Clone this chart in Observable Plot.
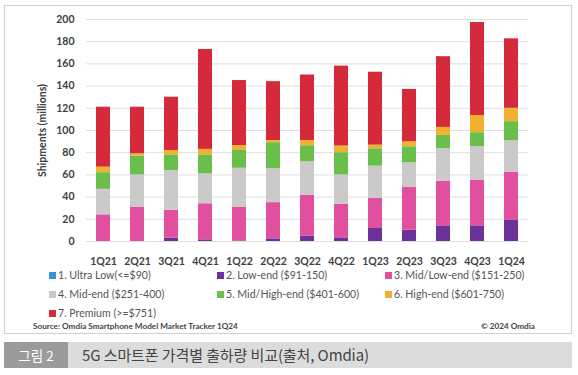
<!DOCTYPE html>
<html>
<head>
<meta charset="utf-8">
<script src="https://cdn.jsdelivr.net/npm/d3@7"></script>
<script src="https://cdn.jsdelivr.net/npm/@observablehq/plot@0.6"></script>
<style>
  html, body { margin: 0; padding: 0; background: #fff; }
  #page { position: relative; width: 578px; height: 375px; overflow: hidden; background: #fff; font-family: Lato, "Open Sans", sans-serif; }
  #frame { position: absolute; left: 4px; top: 5px; width: 566px; height: 327px; border: 1px solid #cfcfcf; box-sizing: content-box; }
  #chart { position: absolute; left: 0; top: 0; }
  .leg { position: absolute; font-size: 10.6px; color: #555; white-space: nowrap; line-height: 12px; }
  .sw { display: inline-block; width: 7px; height: 7px; margin-right: 2px; }
  #source { position: absolute; left: 33px; top: 321px; font-size: 8.2px; font-weight: 700; color: #444; }
  #copy { position: absolute; right: 43px; top: 321px; font-size: 8.2px; font-weight: 700; color: #444; }
  #capbar { position: absolute; left: 4px; top: 342px; width: 568px; height: 26px; background: #dcdcdc; }
  #capnum { position: absolute; left: 0; top: 0; width: 64px; height: 26px; background: #9b9b9b; color: #fff; font-family: "Noto Sans CJK KR", sans-serif; font-size: 13.5px; line-height: 26px; text-align: center; }
  #captext { position: absolute; left: 78px; top: 0; height: 26px; line-height: 26px; color: #444; font-family: "Noto Sans CJK KR", sans-serif; font-size: 15px; letter-spacing: -0.1px; }
</style>
</head>
<body>
<div id="page">
  <div id="frame"></div>
  <div id="chart"></div>
  <div id="legend"></div>
  <div id="source">Source: Omdia Smartphone Model Market Tracker 1Q24</div>
  <div id="copy">© 2024 Omdia</div>
  <div id="capbar"><div id="capnum">그림 2</div><div id="captext">5G 스마트폰 가격별 출하량 비교(출처, Omdia)</div></div>
</div>
<script>
const quarters = ["1Q21","2Q21","3Q21","4Q21","1Q22","2Q22","3Q22","4Q22","1Q23","2Q23","3Q23","4Q23","1Q24"];
const tiers = ["1. Ultra Low(<=$90)","2. Low-end ($91-150)","3. Mid/Low-end ($151-250)","4. Mid-end ($251-400)","5. Mid/High-end ($401-600)","6. High-end ($601-750)","7. Premium (>=$751)"];
const tierColors = ["#3a8fd6","#6b3399","#e0509f","#cbc9c9","#6abf4b","#f0b030","#d42a3c"];
const ultraLow = [0,0,0,0,0,0,0,0,0,0,0,0,0];
const lowEnd   = [0,0,3,1.5,0.5,2.4,4.8,3.3,11.7,10.2,14.1,14.1,19];
const midLow   = [24,31,25,32.5,30.5,32.6,37,30.3,27,38.4,40,41.2,43.5];
const midEnd   = [23,29,36,27,35,30.5,30,26.4,29.2,22.3,29.5,30.3,28.2];
const midHigh  = [15,17,14,17,16,23.5,14.5,20,15.6,14.4,12,12.4,17.3];
const highEnd  = [5,2,4,5,4.5,2,4.7,6,3.3,4.5,7.2,15.5,12];
const premium  = [54,42,48,90,58.5,53,59,72,65.7,47.2,63.7,83.8,62.6];
const yTicks = [0,20,40,60,80,100,120,140,160,180,200];

const series = [ultraLow, lowEnd, midLow, midEnd, midHigh, highEnd, premium];
const rows = [];
series.forEach((vals, i) => vals.forEach((v, j) => rows.push({quarter: quarters[j], tier: tiers[i], value: v})));

const chart = Plot.plot({
  width: 578,
  height: 271,
  marginLeft: 86,
  marginRight: 50,
  marginTop: 19,
  marginBottom: 30,
  style: {fontFamily: "Lato, 'Open Sans', sans-serif", fontSize: "10.5px", fontWeight: 700, color: "#404040", background: "transparent"},
  x: {type: "band", domain: quarters, paddingInner: 0.59, paddingOuter: 0.26, axis: "bottom", tickSize: 0, tickPadding: 16, label: null},
  y: {domain: [0, 200]},
  color: {domain: tiers, range: tierColors},
  marks: [
    Plot.gridY(yTicks, {stroke: "#dedede", strokeOpacity: 1}),
    Plot.barY(rows, Plot.stackY({order: tiers}, {x: "quarter", y: "value", fill: "tier"})),
    Plot.axisY(yTicks, {tickSize: 0, tickPadding: 12, label: "Shipments (millions)", labelAnchor: "center", labelArrow: "none", labelOffset: 48})
  ]
});
document.getElementById("chart").appendChild(chart);

const legend = document.getElementById("legend");
const colX = [49, 217, 385];
const rowY = [269, 288, 307];
tiers.forEach((t, i) => {
  const d = document.createElement("div");
  d.className = "leg";
  d.style.left = colX[i % 3] + "px";
  d.style.top = rowY[Math.floor(i / 3)] + "px";
  const sw = document.createElement("span");
  sw.className = "sw";
  sw.style.background = tierColors[i];
  d.appendChild(sw);
  d.appendChild(document.createTextNode(t));
  legend.appendChild(d);
});
</script>
</body>
</html>
